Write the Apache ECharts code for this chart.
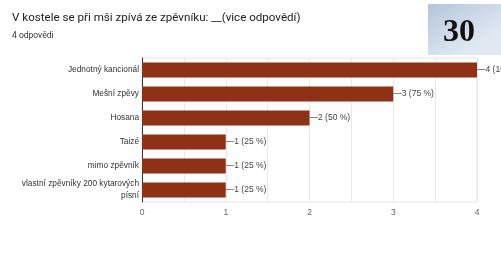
<!DOCTYPE html>
<html><head><meta charset="utf-8">
<script src="https://cdn.jsdelivr.net/npm/echarts@6/dist/echarts.min.js"></script>
<style>html,body{margin:0;padding:0;background:#fff}#c{width:501px;height:262px}</style>
</head><body><div id="c"></div>
<script>
const categories = ["Jednotný kancionál","Mešní zpěvy","Hosana","Taizé","mimo zpěvník","vlastní zpěvníky 200 kytarových\npísní"];
const counts = [4,3,2,1,1,1];
const percents = [100,75,50,25,25,25];
const xTicks = [0,1,2,3,4];
const titleText = "V kostele se při mši zpívá ze zpěvníku: __(vice odpovědí)";
const subText = "4 odpovědi";
const badge = "30";

const chart = echarts.init(document.getElementById('c'), null, {renderer:'canvas'});
chart.setOption({
  animation:false,
  title:{text:titleText, subtext:subText, left:7, top:7, itemGap:7,
    textStyle:{fontFamily:'Roboto',fontSize:11.6,fontWeight:'normal',color:'#202124'},
    subtextStyle:{fontFamily:'Roboto',fontSize:8.5,color:'#333'}},
  grid:{left:142,right:24,top:58,bottom:60,containLabel:false,show:true,borderColor:'#e6e6e6',borderWidth:1},
  xAxis:{type:'value',min:0,max:xTicks[xTicks.length-1],interval:0.5,
    axisLine:{show:false},axisTick:{show:false},
    splitLine:{show:true,lineStyle:{color:'#e8e8e8',width:1}},
    axisLabel:{color:'#666',fontSize:8.5,fontFamily:'Arial',margin:6,
      formatter:v=> xTicks.includes(v)? String(v):''}},
  yAxis:{type:'category',data:categories,inverse:true,
    axisLine:{show:true,lineStyle:{color:'#333',width:1}},axisTick:{show:false},
    splitLine:{show:false},
    axisLabel:{color:'#333',fontSize:8.3,fontFamily:'Arial',margin:3,lineHeight:12}},
  series:[{type:'bar',data:counts,barCategoryGap:'37%',
    itemStyle:{color:'#8e3114'},
    label:{show:true,position:'right',distance:0,color:'#444',fontSize:8.5,fontFamily:'Arial',
      formatter:p=>'—'+counts[p.dataIndex]+' ('+percents[p.dataIndex]+' %)'}}],
  graphic:[
    {type:'rect',left:428,top:4,shape:{width:73,height:51},z:100,
     style:{fill:{type:'linear',x:0,y:0,x2:0.4,y2:1,colorStops:[{offset:0,color:'#b3c5dc'},{offset:1,color:'#e0e8f1'}]}}},
    {type:'text',left:443,top:17,z:101,
     style:{text:badge,font:'bold 32px "Liberation Serif"',fill:'#111'}}
  ]
});
</script></body></html>
